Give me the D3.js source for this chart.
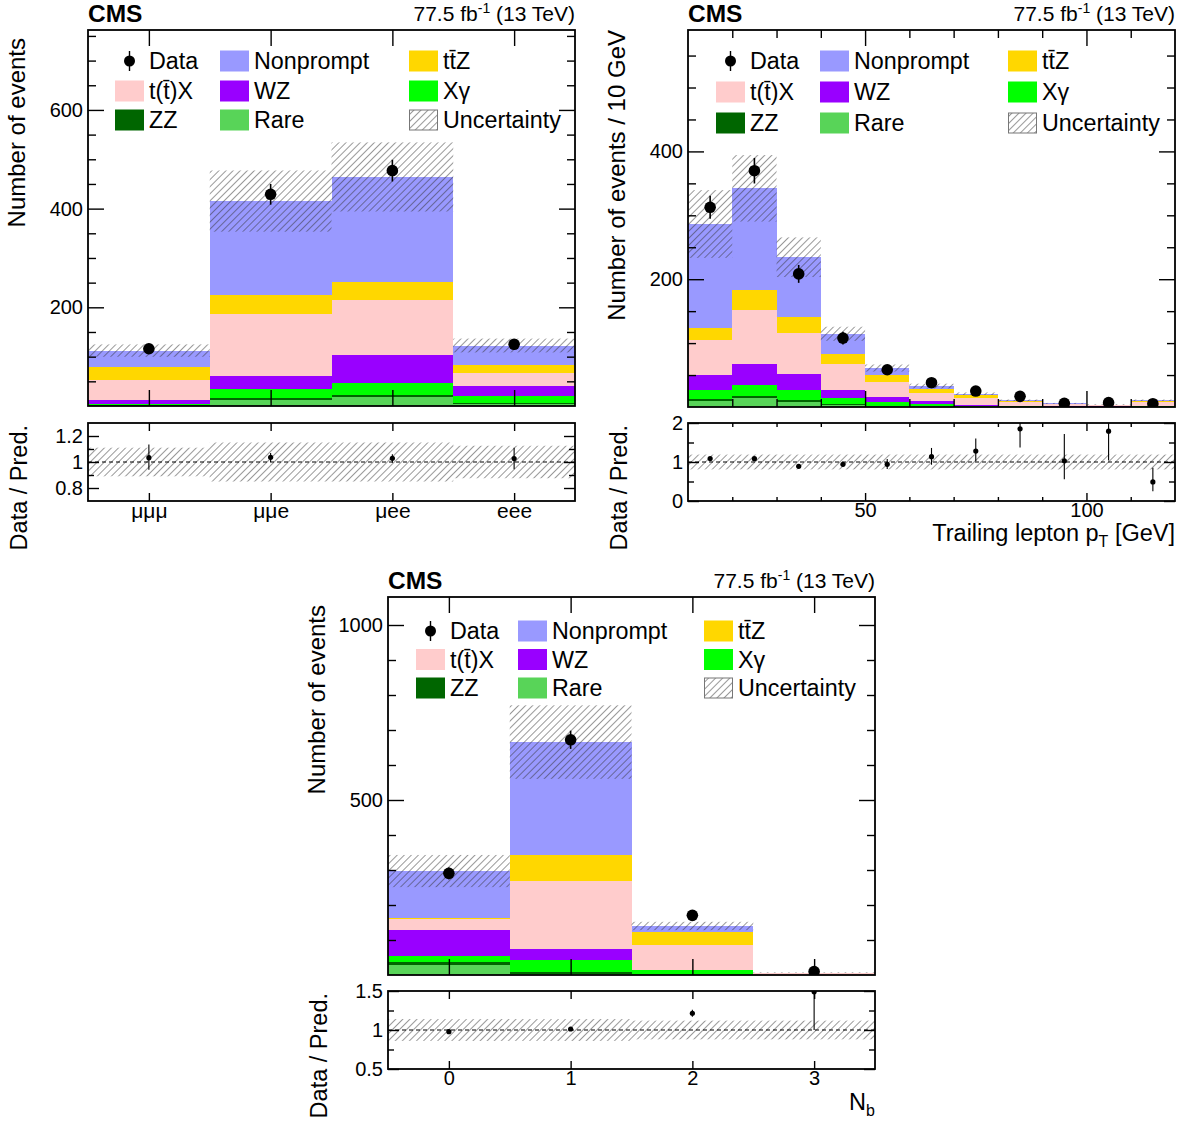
<!DOCTYPE html>
<html><head><meta charset="utf-8">
<script src="https://cdn.jsdelivr.net/npm/d3@7"></script>
<style>
body{margin:0;background:#fff;}
svg text{font-family:"Liberation Sans",Arial,Helvetica,sans-serif;}
</style></head>
<body><svg id="c" width="1190" height="1121"></svg>
<script>
// ---------------- DATA ----------------
const processNames = ["Rare","ZZ","Xγ","WZ","t(t̄)X","tt̄Z","Nonprompt"]; // stacking order, bottom -> top
const processColors = ["#58d458","#006600","#00ff00","#9900ff","#ffcccc","#ffd700","#9999ff"];
const legendOrder = ["Data","Nonprompt","tt̄Z","t(t̄)X","WZ","Xγ","ZZ","Rare","Uncertainty"];

// Panel 1: lepton flavour
const flavCats   = ["μμμ","μμe","μee","eee"];
const flavRare   = [1, 12.5, 17.5, 4];
const flavZZ     = [1, 3.4, 4.7, 1.5];
const flavXg     = [2, 18.3, 24.4, 15.6];
const flavWZ     = [8.1, 26.4, 57.5, 20.3];
const flavTX     = [40.6, 125.9, 111.7, 25];
const flavTTZ    = [27.1, 37.9, 34.5, 16.9];
const flavNP     = [32.5, 190.9, 213.9, 39.3];
const flavUnc    = [12.5, 62, 70, 14];
const flavData   = [116, 429, 477, 125];
const flavDataErr= [10, 21, 22, 11];
const flavRatio  = [1.033, 1.036, 1.028, 1.026];
const flavRatioLo= [0.94, 1.0, 0.995, 0.945];
const flavRatioHi= [1.135, 1.07, 1.06, 1.11];
const flavRatioUnc=[0.11, 0.15, 0.15, 0.125];

// Panel 2: trailing lepton pT
const ptEdges    = [10,20,30,40,50,60,70,80,90,100,110,120];
const ptRare     = [8.9,14.6,7.8,3.6,1.5,0.8,0.4,0.2,0.1,0.1,0.2];
const ptZZ       = [3.1,2.1,2.6,1.6,0.5,0.3,0.2,0.1,0.1,0,0.1];
const ptXg       = [14,17.2,16.7,8.9,5.8,4.1,1.5,0.8,0.4,0.3,0.5];
const ptWZ       = [24.5,32.8,23.9,13,7.8,3.7,1.5,1,0.6,0.4,1.5];
const ptTX       = [53.7,85.3,64.6,40.6,23.4,13,11,5,2.8,2,5.5];
const ptTTZ      = [19.2,31.8,25,15.1,10.5,6.7,3.6,2,1,0.6,1.7];
const ptNP       = [163,158.4,93.8,31.8,11.5,4.2,2.6,1.3,0.6,0.4,1];
const ptUnc      = [53,52,31,11,5.5,3.7,2,1.3,0.8,0.6,1.2];
const ptData     = [312.5,369.8,208.3,107.8,58.3,38,25,16.7,5.8,6.8,5.2];
const ptDataErr  = [18,20,14,10,7.5,6,5,4,2.4,2.6,2.3];
const ptRatio    = [1.087,1.085,0.89,0.94,0.94,1.137,1.28,1.85,1.03,1.79,0.49];
const ptRatioLo  = [1.06,1.06,0.87,0.89,0.82,0.93,1.02,1.37,0.56,1.04,0.25];
const ptRatioHi  = [1.11,1.11,0.91,0.99,1.08,1.36,1.6,2.3,1.72,2.5,0.85];
const ptRatioUnc = [0.19,0.19,0.19,0.19,0.19,0.19,0.19,0.19,0.19,0.19,0.19];

// Panel 3: number of b jets
const nbCats     = ["0","1","2","3"];
const nbRare     = [28.6, 3.8, 0.8, 0.1];
const nbZZ       = [8.5, 4.8, 0.3, 0.05];
const nbXg       = [16.2, 35.2, 12.2, 0.3];
const nbWZ       = [75.2, 31.4, 1.9, 0.3];
const nbTX       = [32.4, 194.2, 71.4, 4];
const nbTTZ      = [2.8, 74.3, 36.2, 1.5];
const nbNP       = [133.3, 321.8, 17.2, 0.5];
const nbUnc      = [46, 105, 12, 1];
const nbData     = [290.4, 672, 170.4, 10];
const nbDataErr  = [17, 26, 13, 3.2];
const nbRatio    = [0.978, 1.013, 1.215, 1.49];
const nbRatioLo  = [0.96, 0.995, 1.17, 1.0];
const nbRatioHi  = [1.0, 1.03, 1.26, 2.0];
const nbRatioUnc = [0.14, 0.14, 0.12, 0.12];

// ---------------- DRAWING ----------------
const FONT = "'Liberation Sans', Arial, Helvetica, sans-serif";
const svg = d3.select("#c");
const defs = svg.append("defs");
const hatch = defs.append("pattern").attr("id","hatch").attr("patternUnits","userSpaceOnUse")
  .attr("width",5).attr("height",5).attr("patternTransform","rotate(45)");
hatch.append("line").attr("x1",0).attr("y1",-1).attr("x2",0).attr("y2",6)
  .attr("stroke","#333").attr("stroke-width",1);

const panels = [
  { key:"flav", frame:{x0:88,x1:575,y0:30,y1:406}, ratio:{y0:423,y1:501},
    xDomain:[0,4], lo:flavCats.map((c,i)=>i), hi:flavCats.map((c,i)=>i+1),
    stack:[flavRare,flavZZ,flavXg,flavWZ,flavTX,flavTTZ,flavNP], unc:flavUnc,
    data:flavData, dataErr:flavDataErr, ratioV:flavRatio, ratioLo:flavRatioLo, ratioHi:flavRatioHi, ratioUnc:flavRatioUnc,
    yDomain:[0,762], yMajor:[200,400,600], yMinor:d3.range(50,762,50).filter(v=>v%200),
    xMajor:flavCats.map((c,i)=>i+0.5), xMinor:[], xLabels:flavCats, xLabelSize:21,
    rDomain:[0.7,1.3], rMajor:[0.8,1,1.2], rMinor:[0.9,1.1], rFmt:d=>d===1?"1":d3.format(".1f")(d),
    yTitle:"Number of events", yTitleOff:8,
    legend:{cols:[27,132,321], rows:[31,61,90]} },
  { key:"pt", frame:{x0:688,x1:1175,y0:30,y1:407}, ratio:{y0:423,y1:501},
    xDomain:[10,120], lo:ptEdges.slice(0,-1), hi:ptEdges.slice(1),
    stack:[ptRare,ptZZ,ptXg,ptWZ,ptTX,ptTTZ,ptNP], unc:ptUnc,
    data:ptData, dataErr:ptDataErr, ratioV:ptRatio, ratioLo:ptRatioLo, ratioHi:ptRatioHi, ratioUnc:ptRatioUnc,
    yDomain:[0,590], yMajor:[200,400], yMinor:d3.range(50,590,50).filter(v=>v%200),
    xMajor:[50,100], xMinor:[20,30,40,60,70,80,90,110], xLabels:["50","100"], xLabelSize:20,
    rDomain:[0,2], rMajor:[0,1,2], rMinor:[0.5,1.5], rFmt:d3.format("d"),
    yTitle:"Number of events / 10 GeV", yTitleOff:0, xTitle:"pt",
    legend:{cols:[28,132,320], rows:[31,62,93]} },
  { key:"nb", frame:{x0:388,x1:875,y0:597,y1:975}, ratio:{y0:991,y1:1069},
    xDomain:[-0.5,3.5], lo:nbCats.map((c,i)=>i-0.5), hi:nbCats.map((c,i)=>i+0.5),
    stack:[nbRare,nbZZ,nbXg,nbWZ,nbTX,nbTTZ,nbNP], unc:nbUnc,
    data:nbData, dataErr:nbDataErr, ratioV:nbRatio, ratioLo:nbRatioLo, ratioHi:nbRatioHi, ratioUnc:nbRatioUnc,
    yDomain:[0,1080], yMajor:[500,1000], yMinor:d3.range(100,1080,100).filter(v=>v%500),
    xMajor:[0,1,2,3], xMinor:[], xLabels:nbCats, xLabelSize:20,
    rDomain:[0.5,1.5], rMajor:[0.5,1,1.5], rMinor:[0.75,1.25], rFmt:d=>d===1?"1":d3.format(".1f")(d),
    yTitle:"Number of events", yTitleOff:8, xTitle:"nb",
    legend:{cols:[28,130,316], rows:[34,62.5,91]} }
];

function inTicks(g, axisFn, scale, vals, len, tr) {
  g.append("g").attr("transform", tr)
    .call(axisFn(scale).tickValues(vals).tickSizeInner(-len).tickSizeOuter(0).tickFormat(""))
    .call(a=>a.select(".domain").remove())
    .selectAll("line").attr("stroke","#000").attr("stroke-width",1.4);
}
function labels(g, axisFn, scale, vals, fmt, size, pad, tr) {
  g.append("g").attr("transform", tr)
    .call(axisFn(scale).tickValues(vals).tickSize(0).tickPadding(pad).tickFormat(fmt))
    .attr("font-family", FONT).attr("font-size", size)
    .call(a=>a.select(".domain").remove())
    .selectAll("text").attr("fill","#000");
}

function drawPanel(p) {
  const F = p.frame, R = p.ratio;
  const g = svg.append("g");
  const x = d3.scaleLinear().domain(p.xDomain).range([F.x0, F.x1]);
  const y = d3.scaleLinear().domain(p.yDomain).range([F.y1, F.y0]);
  const yr = d3.scaleLinear().domain(p.rDomain).range([R.y1, R.y0]);
  const n = p.lo.length;
  const rows = d3.range(n).map(i => { const o = {i}; processNames.forEach((k,j)=>o[k]=p.stack[j][i]); return o; });
  const series = d3.stack().keys(processNames)(rows);
  const totals = rows.map(r => d3.sum(processNames, k => r[k]));

  defs.append("clipPath").attr("id","cm-"+p.key).append("rect")
    .attr("x",F.x0).attr("y",F.y0).attr("width",F.x1-F.x0).attr("height",F.y1-F.y0);
  defs.append("clipPath").attr("id","cr-"+p.key).append("rect")
    .attr("x",F.x0).attr("y",R.y0).attr("width",F.x1-F.x0).attr("height",R.y1-R.y0);

  // ---- main pad ----
  const m = g.append("g").attr("clip-path",`url(#cm-${p.key})`);
  series.forEach((s,j) => {
    m.append("g").selectAll("rect").data(s).join("rect")
      .attr("x", d => x(p.lo[d.data.i])).attr("width", d => x(p.hi[d.data.i]) - x(p.lo[d.data.i]))
      .attr("y", d => y(d[1])).attr("height", d => Math.max(0, y(d[0]) - y(d[1])))
      .attr("fill", processColors[j]).attr("shape-rendering","crispEdges");
  });
  m.append("g").selectAll("rect").data(totals).join("rect")
    .attr("x", (t,i) => x(p.lo[i])).attr("width", (t,i) => x(p.hi[i]) - x(p.lo[i]))
    .attr("y", (t,i) => y(t + p.unc[i])).attr("height", (t,i) => y(t - p.unc[i]) - y(t + p.unc[i]))
    .attr("fill","url(#hatch)");
  const cx = i => x((p.lo[i] + p.hi[i]) / 2);
  m.append("g").selectAll("line").data(p.data).join("line")
    .attr("x1",(d,i)=>cx(i)).attr("x2",(d,i)=>cx(i))
    .attr("y1",(d,i)=>y(d - p.dataErr[i])).attr("y2",(d,i)=>y(d + p.dataErr[i]))
    .attr("stroke","#000").attr("stroke-width",1.6);
  m.append("g").selectAll("circle").data(p.data).join("circle")
    .attr("cx",(d,i)=>cx(i)).attr("cy",d=>y(d)).attr("r",5.8).attr("fill","#000");

  // ticks main
  inTicks(g, d3.axisLeft, y, p.yMajor, 16, `translate(${F.x0},0)`);
  inTicks(g, d3.axisLeft, y, p.yMinor, 8, `translate(${F.x0},0)`);
  inTicks(g, d3.axisRight, y, p.yMajor, 16, `translate(${F.x1},0)`);
  inTicks(g, d3.axisRight, y, p.yMinor, 8, `translate(${F.x1},0)`);
  inTicks(g, d3.axisBottom, x, p.xMajor, 16, `translate(0,${F.y1})`);
  inTicks(g, d3.axisTop, x, p.xMajor, 16, `translate(0,${F.y0})`);
  if (p.xMinor.length) {
    inTicks(g, d3.axisBottom, x, p.xMinor, 8, `translate(0,${F.y1})`);
    inTicks(g, d3.axisTop, x, p.xMinor, 8, `translate(0,${F.y0})`);
  }
  labels(g, d3.axisLeft, y, p.yMajor, d3.format("d"), 20, 5, `translate(${F.x0},0)`);
  g.append("rect").attr("x",F.x0).attr("y",F.y0).attr("width",F.x1-F.x0).attr("height",F.y1-F.y0)
    .attr("fill","none").attr("stroke","#000").attr("stroke-width",1.8);

  // header
  g.append("text").attr("x",F.x0).attr("y",F.y0-8).attr("font-size",24.5).attr("font-weight","bold").text("CMS");
  const lt = g.append("text").attr("x",F.x1).attr("y",F.y0-9).attr("text-anchor","end").attr("font-size",21);
  lt.append("tspan").text("77.5 fb");
  lt.append("tspan").attr("font-size",14).attr("dy",-8).text("-1");
  lt.append("tspan").attr("dy",8).text(" (13 TeV)");

  // y titles
  g.append("text").attr("transform",`translate(${F.x0-63},${F.y0+p.yTitleOff}) rotate(-90)`)
    .attr("text-anchor","end").attr("font-size",24).text(p.yTitle);
  g.append("text").attr("transform",`translate(${F.x0-61},${R.y0+2}) rotate(-90)`)
    .attr("text-anchor","end").attr("font-size",23.5).text("Data / Pred.");

  // legend
  const L = p.legend;
  legendOrder.forEach((name, k) => {
    const col = k % 3, row = Math.floor(k / 3);
    const sx = F.x0 + L.cols[col], cy = F.y0 + L.rows[row];
    if (name === "Data") {
      g.append("line").attr("x1",sx+14.5).attr("x2",sx+14.5).attr("y1",cy-10).attr("y2",cy+10)
        .attr("stroke","#000").attr("stroke-width",1.4);
      g.append("circle").attr("cx",sx+14.5).attr("cy",cy).attr("r",5.5).attr("fill","#000");
    } else if (name === "Uncertainty") {
      g.append("rect").attr("x",sx+0.5).attr("y",cy-10).attr("width",28).attr("height",20)
        .attr("fill","url(#hatch)").attr("stroke","#777").attr("stroke-width",1);
    } else {
      g.append("rect").attr("x",sx).attr("y",cy-10.5).attr("width",29).attr("height",21)
        .attr("fill", processColors[processNames.indexOf(name)]);
    }
    g.append("text").attr("x",sx+34).attr("y",cy+8).attr("font-size",23.3).text(name);
  });

  // ---- ratio pad ----
  const r = g.append("g").attr("clip-path",`url(#cr-${p.key})`);
  r.append("g").selectAll("rect").data(p.ratioUnc).join("rect")
    .attr("x",(u,i)=>x(p.lo[i])).attr("width",(u,i)=>x(p.hi[i])-x(p.lo[i]))
    .attr("y",u=>yr(1+u)).attr("height",u=>yr(1-u)-yr(1+u)).attr("fill","url(#hatch)");
  r.append("line").attr("x1",F.x0).attr("x2",F.x1).attr("y1",yr(1)).attr("y2",yr(1))
    .attr("stroke","#000").attr("stroke-width",1).attr("stroke-dasharray","4,3");
  r.append("g").selectAll("line").data(p.ratioV).join("line")
    .attr("x1",(d,i)=>cx(i)).attr("x2",(d,i)=>cx(i))
    .attr("y1",(d,i)=>yr(p.ratioLo[i])).attr("y2",(d,i)=>yr(p.ratioHi[i]))
    .attr("stroke","#000").attr("stroke-width",1.1);
  r.append("g").selectAll("circle").data(p.ratioV).join("circle")
    .attr("cx",(d,i)=>cx(i)).attr("cy",d=>yr(d)).attr("r",2.6).attr("fill","#000");

  inTicks(g, d3.axisLeft, yr, p.rMajor, 11, `translate(${F.x0},0)`);
  inTicks(g, d3.axisLeft, yr, p.rMinor, 6, `translate(${F.x0},0)`);
  inTicks(g, d3.axisRight, yr, p.rMajor, 11, `translate(${F.x1},0)`);
  inTicks(g, d3.axisRight, yr, p.rMinor, 6, `translate(${F.x1},0)`);
  inTicks(g, d3.axisBottom, x, p.xMajor, 8, `translate(0,${R.y1})`);
  inTicks(g, d3.axisTop, x, p.xMajor, 8, `translate(0,${R.y0})`);
  if (p.xMinor.length) {
    inTicks(g, d3.axisBottom, x, p.xMinor, 4, `translate(0,${R.y1})`);
    inTicks(g, d3.axisTop, x, p.xMinor, 4, `translate(0,${R.y0})`);
  }
  labels(g, d3.axisLeft, yr, p.rMajor, p.rFmt, 20, 5, `translate(${F.x0},0)`);
  labels(g, d3.axisBottom, x, p.xMajor, (d,i)=>p.xLabels[i], p.xLabelSize, 2, `translate(0,${R.y1})`);
  g.append("rect").attr("x",F.x0).attr("y",R.y0).attr("width",F.x1-F.x0).attr("height",R.y1-R.y0)
    .attr("fill","none").attr("stroke","#000").attr("stroke-width",1.8);

  if (p.xTitle === "pt") {
    const t = g.append("text").attr("x",F.x1).attr("y",R.y1+40).attr("text-anchor","end").attr("font-size",23.5);
    t.append("tspan").text("Trailing lepton p");
    t.append("tspan").attr("font-size",16).attr("dy",6).text("T");
    t.append("tspan").attr("dy",-6).text(" [GeV]");
  } else if (p.xTitle === "nb") {
    const t = g.append("text").attr("x",F.x1).attr("y",R.y1+41).attr("text-anchor","end").attr("font-size",23.5);
    t.append("tspan").text("N");
    t.append("tspan").attr("font-size",16).attr("dy",6).text("b");
  }
}

panels.forEach(drawPanel);
</script>
</body></html>
